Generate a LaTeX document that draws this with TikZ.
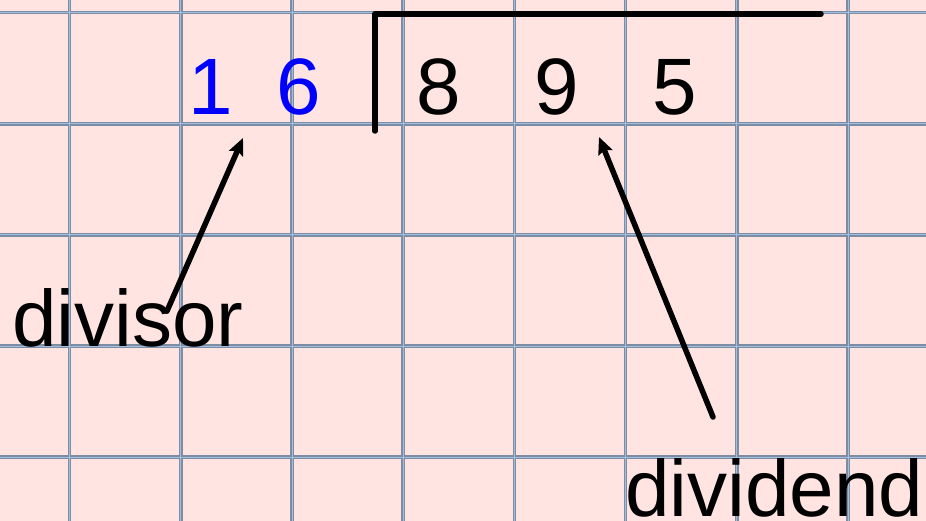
\documentclass[tikz,border=0pt]{standalone}
\usepackage{fontspec}
\setmainfont{Liberation Sans}
\usetikzlibrary{arrows.meta}
\definecolor{bgpink}{RGB}{255,228,225}
\definecolor{gridedge}{RGB}{125,140,162}
\definecolor{gridmid}{RGB}{160,192,225}
\definecolor{divblue}{RGB}{0,0,255}
\tikzset{
  bigtext/.style={inner sep=0pt, font=\fontsize{80}{96}\selectfont},
  digit/.style={bigtext, anchor=base},
  pointer/.style={line width=5.5pt, line cap=round, -{Stealth[length=17pt,width=15pt,inset=3pt]}},
  bracket/.style={line width=5.5pt, line cap=round, line join=round},
  gridA/.style={gridedge, line width=3.5pt},
  gridB/.style={gridmid, line width=1pt}
}
\begin{document}
\begin{tikzpicture}[x=1pt,y=-1pt]
\fill[bgpink] (0,0) rectangle (926,521);
\useasboundingbox (0,0) rectangle (926,521);
% grid
\foreach \gx in {69.5,180.8,292,403.2,514.4,625.6,736.8,848}{
  \draw[gridA] (\gx,0) -- (\gx,521);
}
\foreach \gy in {12.7,123.8,235,346,457}{
  \draw[gridA] (0,\gy) -- (926,\gy);
}
\foreach \gx in {69.5,180.8,292,403.2,514.4,625.6,736.8,848}{
  \draw[gridB] (\gx,0) -- (\gx,521);
}
\foreach \gy in {12.7,123.8,235,346,457}{
  \draw[gridB] (0,\gy) -- (926,\gy);
}
% divisor digits
\node[digit, text=divblue] (d1) at (210.5,115) {1};
\node[digit, text=divblue] (d6) at (298.5,115) {6};
% dividend digits
\node[digit] (n8) at (439,115) {8};
\node[digit] (n9) at (556.5,115) {9};
\node[digit] (n5) at (675,115) {5};
% bracket
\coordinate (bb) at (375,131);
\coordinate (bc) at (375,14);
\coordinate (be) at (821,14);
\draw[bracket] (bb) -- (bc) -- (be);
% labels
\node[bigtext, anchor=base west] (divisor) at (12,346.5) {divisor};
\node[bigtext, anchor=base west] (dividend) at (625,516.5) {dividend};
% arrows
\coordinate (t1) at (167,311);
\coordinate (h1) at (243,138);
\coordinate (t2) at (713,417);
\coordinate (h2) at (599,137);
\draw[pointer] (t1) -- (h1);
\draw[pointer] (t2) -- (h2);
\end{tikzpicture}
\end{document}
